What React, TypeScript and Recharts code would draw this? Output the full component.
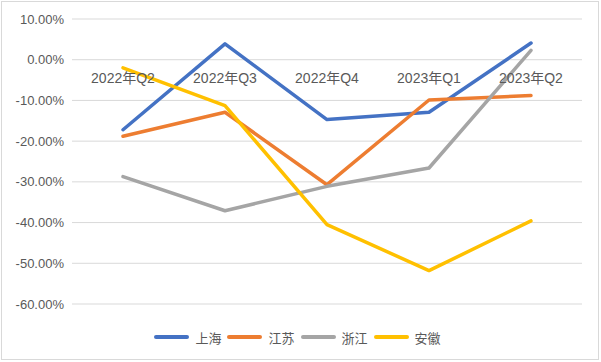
import React from 'react'
import {
  LineChart,
  Line,
  XAxis,
  YAxis,
  CartesianGrid,
  Legend,
  ReferenceDot,
} from 'recharts'

const quarters = ['2022年Q2', '2022年Q3', '2022年Q4', '2023年Q1', '2023年Q2']
const shanghai = [-17.2, 3.9, -14.7, -12.9, 4.1]
const jiangsu = [-18.8, -12.9, -30.7, -9.9, -8.8]
const zhejiang = [-28.7, -37.1, -31.1, -26.6, 2.3]
const anhui = [-2.0, -11.3, -40.5, -51.8, -39.6]
const yTicks = [10, 0, -10, -20, -30, -40, -50, -60]

const SERIES = [
  { key: 'shanghai', name: '上海', color: '#4472C4' },
  { key: 'jiangsu', name: '江苏', color: '#ED7D31' },
  { key: 'zhejiang', name: '浙江', color: '#A5A5A5' },
  { key: 'anhui', name: '安徽', color: '#FFC000' },
]

const data = quarters.map((q, i) => ({
  quarter: q,
  shanghai: shanghai[i],
  jiangsu: jiangsu[i],
  zhejiang: zhejiang[i],
  anhui: anhui[i],
}))

const FONT = '"Liberation Sans", "Noto Sans CJK SC", sans-serif'
const TEXT = '#595959'

function LegendContent() {
  return (
    <div
      style={{
        height: 48,
        display: 'flex',
        justifyContent: 'center',
        alignItems: 'flex-end',
        gap: 6,
        paddingBottom: 7,
        paddingRight: 6,
        boxSizing: 'border-box',
        fontFamily: '"Noto Sans CJK SC", sans-serif',
        fontSize: 13,
        color: TEXT,
      }}
    >
      {SERIES.map((s) => (
        <div key={s.key} style={{ display: 'flex', alignItems: 'center', height: 16 }}>
          <span
            style={{
              display: 'inline-block',
              width: 35,
              height: 4,
              borderRadius: 2,
              background: s.color,
              marginRight: 6,
            }}
          />
          <span>{s.name}</span>
        </div>
      ))}
    </div>
  )
}

export default function App() {
  return (
    <div style={{ position: 'fixed', left: 0, top: 0, width: 601, height: 362, background: '#fff' }}>
      <LineChart width={601} height={362} data={data} margin={{ top: 19, right: 19, bottom: 10, left: 0 }}>
        <CartesianGrid vertical={false} stroke="#D9D9D9" />
        <XAxis dataKey="quarter" scale="band" hide />
        <YAxis
          domain={[-60, 10]}
          ticks={yTicks}
          width={72}
          axisLine={false}
          tickLine={false}
          tickFormatter={(v: number) => `${v.toFixed(2)}%`}
          tick={{ fill: TEXT, fontSize: 13, fontFamily: FONT }}
        />
        {quarters.map((q) => (
          <ReferenceDot
            key={q}
            x={q}
            y={0}
            r={0}
            fill="none"
            stroke="none"
            label={{ value: q, position: 'bottom', offset: 13, fill: TEXT, fontSize: 14, fontFamily: FONT }}
          />
        ))}
        {SERIES.map((s) => (
          <Line
            key={s.key}
            dataKey={s.key}
            name={s.name}
            stroke={s.color}
            strokeWidth={3.5}
            dot={false}
            strokeLinecap="round"
            strokeLinejoin="round"
            isAnimationActive={false}
          />
        ))}
        <Legend
          verticalAlign="bottom"
          wrapperStyle={{ left: 0, width: 601 }}
          content={<LegendContent />}
        />
      </LineChart>
      <div
        style={{
          position: 'absolute',
          left: 1,
          top: 1,
          width: 598,
          height: 359,
          border: '1px solid #D9D9D9',
          boxSizing: 'border-box',
          pointerEvents: 'none',
        }}
      />
    </div>
  )
}
